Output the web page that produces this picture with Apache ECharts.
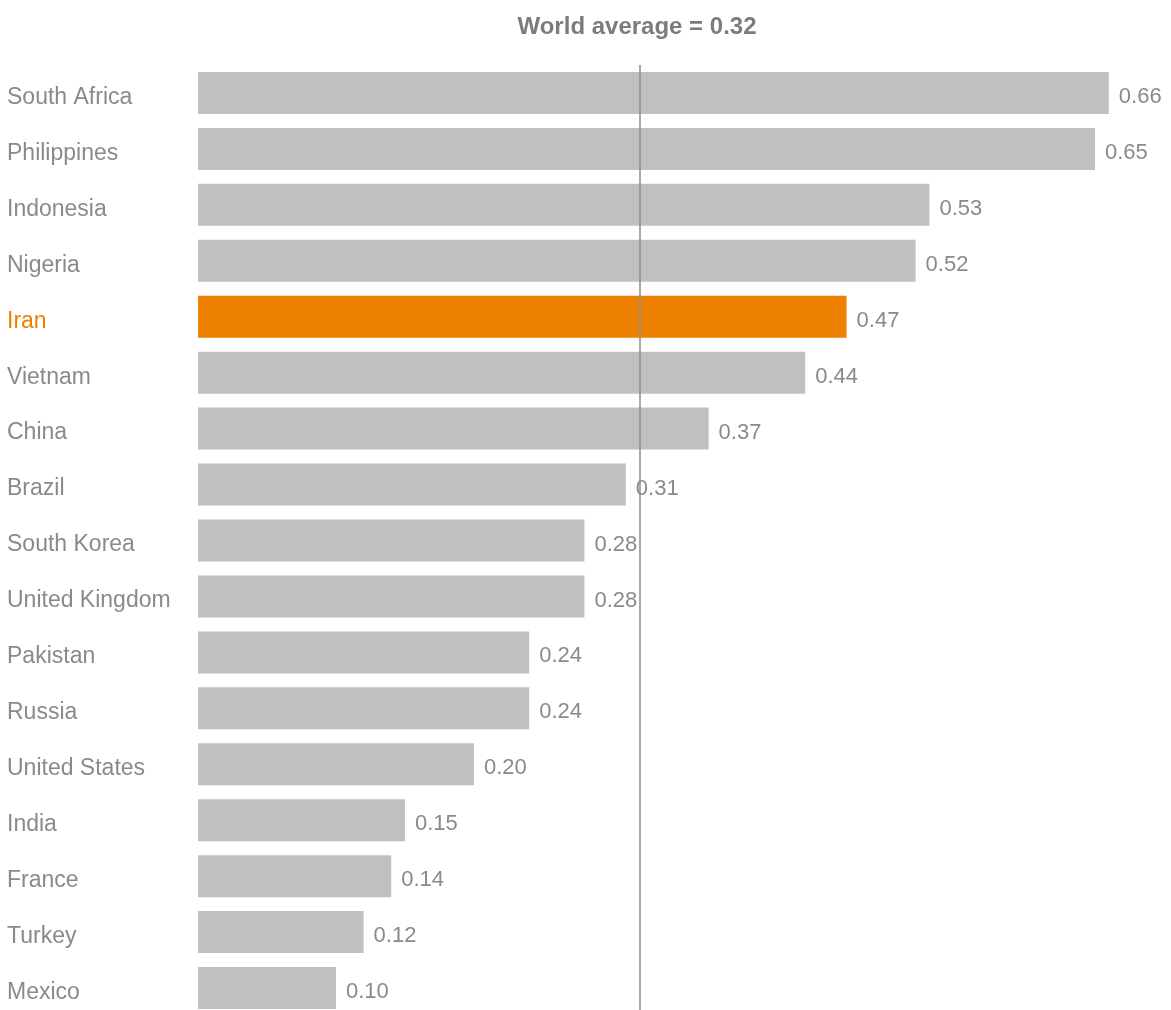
<!DOCTYPE html>
<html>
<head>
<meta charset="utf-8">
<script src="https://cdn.jsdelivr.net/npm/echarts@6/dist/echarts.min.js"></script>
<style>html,body{margin:0;padding:0;background:#fff}#c{width:1171px;height:1010px}</style>
</head>
<body>
<div id="c"></div>
<script>
const countries = ['South Africa','Philippines','Indonesia','Nigeria','Iran','Vietnam','China','Brazil','South Korea','United Kingdom','Pakistan','Russia','United States','India','France','Turkey','Mexico'];
const values = [0.66,0.65,0.53,0.52,0.47,0.44,0.37,0.31,0.28,0.28,0.24,0.24,0.20,0.15,0.14,0.12,0.10];
const highlight = 'Iran';
const worldAverage = 0.32;
const titleText = 'World average = 0.32';

const FONT = '"Liberation Sans", Arial, sans-serif';
const GREY = '#c1c0be';
const ORANGE = '#ee8100';
const TEXT = '#8a8a8a';

const chart = echarts.init(document.getElementById('c'));
chart.setOption({
  animation: false,
  title: {
    text: titleText, left: 632, top: 10, textAlign: 'center',
    textStyle: {fontFamily: FONT, fontSize: 24, fontWeight: 'bold', color: '#7c7c7c'}
  },
  grid: {left: 198, top: 65, height: 951, width: 966, outerBoundsMode: 'none'},
  xAxis: {type: 'value', min: 0, max: 0.7, show: false},
  yAxis: {
    type: 'category', data: countries, inverse: true,
    axisLine: {show: false}, axisTick: {show: false},
    axisLabel: {
      align: 'left', margin: 191,
      formatter: v => (v === highlight ? '{h|' : '{n|') + v + '}',
      rich: {
        n: {fontFamily: FONT, fontSize: 23, color: TEXT, padding: [9, 0, 0, 0]},
        h: {fontFamily: FONT, fontSize: 23, color: ORANGE, padding: [9, 0, 0, 0]}
      }
    }
  },
  series: [
    {
      type: 'bar', z: 1, barWidth: 42,
      data: values.map((v, i) => ({value: v, itemStyle: {color: countries[i] === highlight ? ORANGE : GREY}})),
      silent: true
    },
    {
      type: 'line', z: 2, data: [], silent: true,
      markLine: {
        silent: true, symbol: 'none', label: {show: false},
        lineStyle: {color: '#8e8e8e', width: 1.5, type: 'solid'},
        data: [{xAxis: worldAverage}]
      }
    },
    {
      type: 'bar', z: 3, barWidth: 42, barGap: '-100%',
      data: values, itemStyle: {color: 'rgba(0,0,0,0)'}, silent: true,
      label: {
        show: true, position: 'right', distance: 8,
        formatter: p => '{v|' + p.value.toFixed(2) + '}',
        backgroundColor: '#fff', padding: [0, 2],
        rich: {
          v: {fontFamily: FONT, fontSize: 22, color: TEXT, padding: [8, 0, 0, 0]}
        }
      }
    }
  ]
});
</script>
</body>
</html>
